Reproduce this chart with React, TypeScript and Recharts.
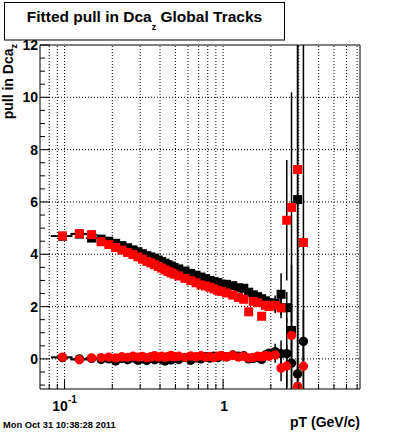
import { ErrorBar, ReferenceArea, ReferenceLine, Scatter, ScatterChart, XAxis, YAxis } from 'recharts'

// pT bin centres (GeV/c) and half widths
const pt = [
  0.097, 0.124, 0.148, 0.17, 0.19, 0.21, 0.23, 0.25, 0.27, 0.29, 0.31, 0.33, 0.35, 0.37, 0.39, 0.41, 0.43,
  0.45, 0.47, 0.49, 0.525, 0.575, 0.625, 0.675, 0.725, 0.775, 0.825, 0.875, 0.925, 0.975, 1.05, 1.15, 1.25,
  1.35, 1.45, 1.55, 1.65, 1.75, 1.85, 1.95, 2.13, 2.32, 2.52, 2.7, 2.95, 3.21,
]
const ptHalfWidth = [
  0.015, 0.015, 0.012, 0.01, 0.01, 0.01, 0.01, 0.01, 0.01, 0.01, 0.01, 0.01, 0.01, 0.01, 0.01, 0.01, 0.01,
  0.01, 0.01, 0.01, 0.025, 0.025, 0.025, 0.025, 0.025, 0.025, 0.025, 0.025, 0.025, 0.025, 0.05, 0.05, 0.05,
  0.05, 0.05, 0.05, 0.05, 0.05, 0.05, 0.05, 0.09, 0.1, 0.1, 0.09, 0.12, 0.13,
]

type Err = number | [number, number]

// width of the pull distribution (squares); errors are [down, up] where asymmetric
const sigmaBlack = [
  4.69, 4.77, 4.62, 4.58, 4.5, 4.42, 4.33, 4.25, 4.17, 4.1, 4.02, 3.95, 3.9, 3.85, 3.78, 3.72, 3.66,
  3.6, 3.55, 3.5, 3.44, 3.36, 3.27, 3.2, 3.13, 3.07, 3.0, 2.96, 2.92, 2.86, 2.85, 2.8, 2.72,
  2.7, 2.55, 2.45, 2.38, 2.3, 2.22, 2.15, 2.12, 2.47, 1.96, 1.09, 6.09, null,
]
const sigmaBlackErr: Err[] = [
  0.03, 0.03, 0.03, 0.03, 0.03, 0.03, 0.03, 0.03, 0.03, 0.03, 0.03, 0.03, 0.03, 0.03, 0.03, 0.03, 0.03,
  0.03, 0.03, 0.03, 0.03, 0.03, 0.03, 0.03, 0.03, 0.03, 0.03, 0.03, 0.03, 0.04, 0.04, 0.05, 0.05,
  0.06, 0.07, 0.08, 0.09, 0.1, 0.12, 0.15, 0.3, 0.8, 0.6, [2.24, 2.5], [7.24, 5.91], 0,
]
const sigmaRed = [
  4.7, 4.79, 4.75, 4.48, 4.37, 4.26, 4.16, 4.07, 3.99, 3.9, 3.81, 3.73, 3.67, 3.6, 3.53, 3.47, 3.4,
  3.34, 3.29, 3.24, 3.17, 3.08, 2.99, 2.91, 2.83, 2.79, 2.74, 2.68, 2.62, 2.58, 2.52, 2.44, 2.35,
  2.28, 1.8, 2.2, 2.15, 1.63, 2.05, 2.0, 2.05, 1.95, 5.3, 5.79, 7.24, 4.45,
]
const sigmaRedErr: Err[] = [
  0.03, 0.03, 0.03, 0.03, 0.03, 0.03, 0.03, 0.03, 0.03, 0.03, 0.03, 0.03, 0.03, 0.03, 0.03, 0.03, 0.03,
  0.03, 0.03, 0.03, 0.03, 0.03, 0.03, 0.03, 0.03, 0.03, 0.03, 0.03, 0.03, 0.04, 0.04, 0.05, 0.05,
  0.06, 0.07, 0.08, 0.09, 0.1, 0.12, 0.15, 0.3, 0.4, 2.3, 4.4, [8.39, 4.76], [5.6, 7.55],
]

// mean of the pull distribution (circles)
const meanBlack = [
  0.05, 0.0, 0.02, -0.02, 0.0, -0.08, 0.02, -0.03, 0.04, -0.05, 0.0, -0.06, 0.02, -0.03, 0.05, -0.02, -0.08,
  0.01, -0.04, 0.03, -0.02, 0.05, -0.05, 0.04, 0.0, 0.08, 0.03, 0.1, 0.05, 0.12, 0.08, 0.15, 0.1,
  0.12, 0.0, 0.02, 0.05, -0.02, 0.15, 0.22, 0.28, 0.2, 0.2, -0.16, -0.57, 0.67,
]
const meanBlackErr: Err[] = [
  0.03, 0.03, 0.03, 0.03, 0.03, 0.03, 0.03, 0.03, 0.03, 0.03, 0.03, 0.03, 0.03, 0.03, 0.03, 0.03, 0.03,
  0.03, 0.03, 0.03, 0.03, 0.03, 0.03, 0.03, 0.03, 0.03, 0.03, 0.03, 0.03, 0.04, 0.04, 0.05, 0.05,
  0.06, 0.07, 0.08, 0.09, 0.1, 0.12, 0.15, 0.3, 0.5, [1.35, 1.35], [0.99, 0.99], [0.58, 0.58], [1.2, 1.2],
]
const meanRed = [
  0.07, -0.03, 0.04, 0.05, 0.07, 0.04, 0.08, 0.06, 0.1, 0.07, 0.09, 0.05, 0.08, 0.12, 0.07, 0.1, 0.06,
  0.09, 0.13, 0.08, 0.1, 0.06, 0.11, 0.08, 0.12, 0.07, 0.09, 0.05, 0.1, 0.12, 0.08, 0.13, 0.07,
  0.1, 0.04, 0.06, 0.1, 0.08, 0.12, 0.1, 0.15, -0.35, -0.27, 0.9, -1.05, -0.28,
]
const meanRedErr: Err[] = [
  0.03, 0.03, 0.03, 0.03, 0.03, 0.03, 0.03, 0.03, 0.03, 0.03, 0.03, 0.03, 0.03, 0.03, 0.03, 0.03, 0.03,
  0.03, 0.03, 0.03, 0.03, 0.03, 0.03, 0.03, 0.03, 0.03, 0.03, 0.03, 0.03, 0.04, 0.04, 0.05, 0.05,
  0.06, 0.07, 0.08, 0.09, 0.1, 0.12, 0.15, 0.3, 0.5, 0.8, 1.2, 0.1, 0.87,
]

const xTicks = [0.08, 0.09, 0.1, 0.2, 0.3, 0.4, 0.5, 0.6, 0.7, 0.8, 0.9, 1, 2, 3, 4, 5, 6, 7]
const xLabelled = [0.1, 1]
const yTicks = [
  -1, -0.5, 0, 0.5, 1, 1.5, 2, 2.5, 3, 3.5, 4, 4.5, 5, 5.5, 6, 6.5, 7, 7.5, 8, 8.5, 9, 9.5, 10, 10.5, 11, 11.5, 12,
]
const yGrid = [0, 2, 4, 6, 8, 10]

const X_DOMAIN: [number, number] = [0.07, 7.3]
const Y_DOMAIN: [number, number] = [-1.15, 12]
const FONT = '"Liberation Sans", Arial, Helvetica, sans-serif'

function toPoints(ys: (number | null)[], errs: Err[]) {
  return pt
    .map((x, i) => ({ x, y: ys[i], xErr: ptHalfWidth[i], yErr: errs[i] }))
    .filter((p) => p.y !== null)
}

const square = (color: string) => (props: any) => (
  <rect x={props.cx - 4.5} y={props.cy - 4.5} width={9} height={9} fill={color} />
)
const circle = (color: string) => (props: any) => <circle cx={props.cx} cy={props.cy} r={4.7} fill={color} />

function YTick({ x, y, payload }: any) {
  const v = payload.value
  const major = v % 2 === 0
  return (
    <g>
      <line x1={x} x2={x + (major ? 10 : 5)} y1={y} y2={y} stroke="#000" />
      {major && (
        <text x={x - 2} y={y} dy={5} textAnchor="end" fontSize={14} fontWeight="bold" fontFamily={FONT} fill="#000">
          {v}
        </text>
      )}
    </g>
  )
}

function XTick({ x, y, payload }: any) {
  const v = payload.value
  const major = xLabelled.includes(v)
  return (
    <g>
      <line x1={x} x2={x} y1={y} y2={y - (major ? 10 : 5)} stroke="#000" />
      {v === 0.1 && (
        <text x={x} y={y + 22} textAnchor="middle" fontSize={14} fontWeight="bold" fontFamily={FONT} fill="#000">
          10
          <tspan dy={-8} fontSize={10}>
            -1
          </tspan>
        </text>
      )}
      {v === 1 && (
        <text x={x + 1} y={y + 22} textAnchor="middle" fontSize={14} fontWeight="bold" fontFamily={FONT} fill="#000">
          1
        </text>
      )}
    </g>
  )
}

export default function App() {
  return (
    <div style={{ position: 'absolute', left: 0, top: 0, width: 400, height: 433, background: '#fff', fontFamily: FONT }}>
      <ScatterChart width={400} height={433} margin={{ top: 45, right: 40, bottom: 0, left: 0 }}>
        <XAxis
          type="number"
          dataKey="x"
          scale="log"
          domain={X_DOMAIN}
          allowDataOverflow
          ticks={xTicks}
          interval={0}
          height={44}
          axisLine={false}
          tickLine={false}
          tickSize={0}
          tickMargin={0}
          tick={<XTick />}
        />
        <YAxis
          type="number"
          dataKey="y"
          domain={Y_DOMAIN}
          allowDataOverflow
          ticks={yTicks}
          interval={0}
          width={40}
          axisLine={false}
          tickLine={false}
          tickSize={0}
          tickMargin={0}
          tick={<YTick />}
        />
        {yGrid.map((v) => (
          <ReferenceLine key={`gy${v}`} y={v} stroke="#000" strokeDasharray="1 2" />
        ))}
        {xTicks.map((v) => (
          <ReferenceLine key={`gx${v}`} x={v} stroke="#000" strokeDasharray="1 2" />
        ))}
        <Scatter data={toPoints(sigmaBlack, sigmaBlackErr)} shape={square('#000')} isAnimationActive={false}>
          <ErrorBar dataKey="xErr" direction="x" width={0} stroke="#000" />
          <ErrorBar dataKey="yErr" direction="y" width={0} stroke="#000" />
        </Scatter>
        <Scatter data={toPoints(meanBlack, meanBlackErr)} shape={circle('#000')} isAnimationActive={false}>
          <ErrorBar dataKey="xErr" direction="x" width={0} stroke="#000" />
          <ErrorBar dataKey="yErr" direction="y" width={0} stroke="#000" />
        </Scatter>
        <Scatter data={toPoints(sigmaRed, sigmaRedErr)} shape={square('#ff0000')} isAnimationActive={false}>
          <ErrorBar dataKey="xErr" direction="x" width={0} stroke="#000" />
          <ErrorBar dataKey="yErr" direction="y" width={0} stroke="#000" />
        </Scatter>
        <Scatter data={toPoints(meanRed, meanRedErr)} shape={circle('#ff0000')} isAnimationActive={false}>
          <ErrorBar dataKey="xErr" direction="x" width={0} stroke="#000" />
          <ErrorBar dataKey="yErr" direction="y" width={0} stroke="#000" />
        </Scatter>
        <ReferenceArea
          x1={X_DOMAIN[0]}
          x2={X_DOMAIN[1]}
          y1={Y_DOMAIN[0]}
          y2={Y_DOMAIN[1]}
          fill="none"
          fillOpacity={0}
          stroke="#000"
          strokeOpacity={1}
        />
      </ScatterChart>
      <svg width={400} height={433} style={{ position: 'absolute', left: 0, top: 0, pointerEvents: 'none' }}>
        <rect x={4.5} y={2.5} width={280} height={37.5} fill="#fff" stroke="#000" />
        <text x={144.5} y={22} textAnchor="middle" fontSize={15.5} fontWeight="bold" fontFamily={FONT} fill="#000">
          Fitted pull in Dca
          <tspan dy={8} fontSize={9}>
            z
          </tspan>
          <tspan dy={-8}> Global Tracks</tspan>
        </text>
        <text
          transform="translate(13,44) rotate(-90)"
          textAnchor="end"
          fontSize={14}
          fontWeight="bold"
          fontFamily={FONT}
          fill="#000"
        >
          pull in Dca
          <tspan dy={4} fontSize={9}>
            z
          </tspan>
        </text>
        <text x={360} y={427} textAnchor="end" fontSize={14} fontWeight="bold" fontFamily={FONT} fill="#000">
          pT (GeV/c)
        </text>
        <text x={3} y={427.5} fontSize={9.3} fontWeight="bold" fontFamily={FONT} fill="#000">
          Mon Oct 31 10:38:28 2011
        </text>
      </svg>
    </div>
  )
}
